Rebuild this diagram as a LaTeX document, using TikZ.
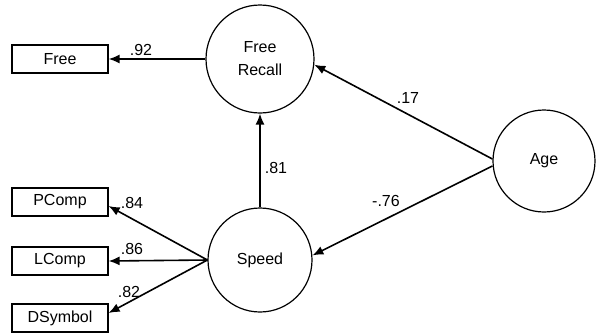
\documentclass[tikz,border=0pt]{standalone}
\usepackage{fontspec}
\setmainfont{Liberation Sans}
\usetikzlibrary{arrows.meta}
\begin{document}
\begin{tikzpicture}[x=1pt,y=-1pt,
  latent/.style={draw,circle,line width=1.2pt,inner sep=0pt,font=\fontsize{16}{23}\selectfont,align=center},
  obs/.style={draw,rectangle,line width=1.2pt,minimum width=96pt,minimum height=28pt,inner sep=0pt,font=\fontsize{16}{19}\selectfont},
  arr/.style={line width=1.6pt,-{Latex[length=11pt,width=9pt]}},
  lab/.style={font=\fontsize{16}{19}\selectfont,inner sep=0pt}]
\useasboundingbox (0,0) rectangle (596,333);
\node[latent,minimum size=108pt] (fr) at (260,59) {Free\\Recall};
\node[latent,minimum size=104pt] (sp) at (260,260) {Speed};
\node[latent,minimum size=102pt] (age) at (544,161) {Age};
\node[obs] (free) at (60,59) {Free};
\node[obs] (pcomp) at (60,202) {PComp};
\node[obs] (lcomp) at (60,261) {LComp};
\node[obs] (dsym) at (60,318) {DSymbol};
\draw[arr] (fr.west) -- (free.east);
\draw[arr] (sp.north) -- (fr.south);
\draw[arr] ([yshift=2pt]age.west) -- (fr.-6);
\draw[arr] ([yshift=-5pt]age.west) -- (sp.5);
\draw[arr] (sp.west) -- ([yshift=-4pt]pcomp.east);
\draw[arr] (sp.west) -- (lcomp.east);
\draw[arr] (sp.west) -- ([yshift=5pt]dsym.east);
\node[lab] (l92) at (141,50) {.92};
\node[lab] (l81) at (276,168) {.81};
\node[lab] (l17) at (408,98) {.17};
\node[lab] (l76) at (386,201) {-.76};
\node[lab] (l84) at (132,203) {.84};
\node[lab] (l86) at (132,249) {.86};
\node[lab] (l82) at (129,292) {.82};
\end{tikzpicture}
\end{document}
